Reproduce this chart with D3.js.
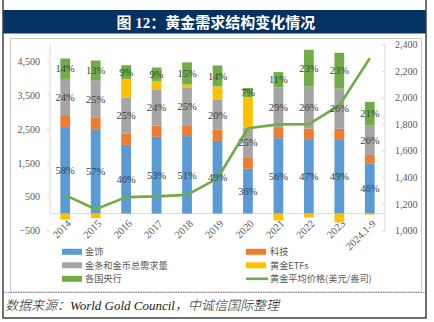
<!DOCTYPE html>
<html>
<head>
<meta charset="utf-8">
<script src="https://cdn.jsdelivr.net/npm/d3@7/dist/d3.min.js"></script>
<style>
  html, body { margin: 0; padding: 0; background: #fff; }
  svg { display: block; }
</style>
</head>
<body>
<svg id="chart" width="434" height="322"></svg>
<script>
// ---------------- DATA ----------------
const categories = ["2014","2015","2016","2017","2018","2019","2020","2021","2022","2023","2024.1-9"];
const jewellery    = [2557, 2497, 2031, 2269, 2290, 2150, 1325, 2230, 2201, 2201, 1488];
const technology   = [356, 336, 327, 336, 326, 330, 320, 327, 315, 306, 246];
const barCoin      = [1070, 1100, 1079, 1051, 1099, 880, 900, 1180, 1238, 1188, 871];
const etfs         = [-175, -135, 546, 267, 101, 400, 900, -205, -116, -255, -30];
const centralBanks = [603, 594, 404, 395, 656, 620, 267, 446, 1090, 1060, 695];
const goldPrice    = [1266, 1160, 1251, 1257, 1268, 1393, 1770, 1799, 1800, 1941, 2296];

const jewelleryPct   = ["58%","57%","46%","53%","51%","49%","36%","56%","47%","49%","46%"];
const barCoinPct     = ["24%","25%","25%","24%","25%","20%","25%","29%","26%","26%","26%"];
const centralBankPct = ["14%","13%","9%","9%","15%","14%","7%","11%","23%","23%","21%"];

const leftTicks  = [-500, 500, 1500, 2500, 3500, 4500];
const rightTicks = [1000, 1200, 1400, 1600, 1800, 2000, 2200, 2400];

const seriesNames = ["金饰", "科技", "金条和金币总需求量", "黄金ETFs", "各国央行", "黄金平均价格(美元/盎司)"];
const titleText  = "图 12：黄金需求结构变化情况";
const sourceText = "数据来源：World Gold Council，中诚信国际整理";

// ---------------- STYLE ----------------
const colors = {
  jewellery: "#5B9BD5", technology: "#ED7D31", barCoin: "#A5A5A5",
  etfs: "#FFC000", centralBanks: "#70AD47", price: "#70AD47"
};
const serif = "'Liberation Serif', 'Times New Roman', serif";
const cjk = "'Noto Sans CJK SC', sans-serif";

const svg = d3.select("#chart");

// ---------------- FRAME ----------------
svg.append("rect").attr("x", 3).attr("y", 10).attr("width", 423).attr("height", 23.5)
  .attr("fill", "#033263");
svg.append("text").attr("x", 216).attr("y", 27.5).attr("text-anchor", "middle")
  .attr("fill", "#fff").attr("font-family", "'Liberation Serif', 'Noto Sans CJK SC', serif")
  .attr("font-weight", "bold").attr("font-size", 15).text(titleText);

// inner chart frame
svg.append("rect").attr("x", 10.5).attr("y", 38.5).attr("width", 411).attr("height", 253.5)
  .attr("fill", "none").attr("stroke", "#C8C8C8").attr("stroke-width", 1);
// dotted separator
svg.append("line").attr("x1", 3).attr("x2", 426).attr("y1", 292.5).attr("y2", 292.5)
  .attr("stroke", "#888").attr("stroke-width", 1).attr("stroke-dasharray", "1.5,1");
// outer borders
svg.append("line").attr("x1", 3).attr("x2", 3).attr("y1", 0).attr("y2", 318.5)
  .attr("stroke", "#404040").attr("stroke-width", 1.5);
svg.append("line").attr("x1", 426).attr("x2", 426).attr("y1", 0).attr("y2", 318.5)
  .attr("stroke", "#404040").attr("stroke-width", 1.5);
svg.append("line").attr("x1", 3).attr("x2", 426).attr("y1", 318).attr("y2", 318)
  .attr("stroke", "#404040").attr("stroke-width", 1.5);

// ---------------- SCALES ----------------
const plotLeft = 50, plotRight = 385, plotTop = 44.5, plotBottom = 230.5;
const x = d3.scaleBand().domain(categories).range([plotLeft, plotRight])
  .paddingInner(0.68).paddingOuter(0.34);
const yL = d3.scaleLinear().domain([-500, 5000]).range([plotBottom, plotTop]);
const yR = d3.scaleLinear().domain([1000, 2400]).range([plotBottom, plotTop]);

// ---------------- AXES ----------------
const axisColor = "#D9D9D9";
const labelColor = "#595959";

const leftAxis = svg.append("g").attr("transform", `translate(${plotLeft},0)`)
  .call(d3.axisLeft(yL).tickValues(leftTicks).tickSize(3).tickPadding(7)
        .tickFormat(d3.format(",")));
leftAxis.select(".domain").remove();
leftAxis.selectAll(".tick line").attr("stroke", axisColor);
leftAxis.selectAll("text").attr("font-family", serif).attr("font-size", 10).attr("fill", labelColor);
svg.append("line").attr("x1", plotLeft).attr("x2", plotLeft).attr("y1", plotTop).attr("y2", yL(0))
  .attr("stroke", axisColor);

const rightAxis = svg.append("g").attr("transform", `translate(${plotRight},0)`)
  .call(d3.axisRight(yR).tickValues(rightTicks).tickSize(-3).tickPadding(10)
        .tickFormat(d3.format(",")));
rightAxis.select(".domain").remove();
rightAxis.selectAll(".tick line").attr("stroke", axisColor);
rightAxis.selectAll("text").attr("font-family", serif).attr("font-size", 10).attr("fill", labelColor);
svg.append("line").attr("x1", plotRight).attr("x2", plotRight).attr("y1", plotTop).attr("y2", plotBottom)
  .attr("stroke", axisColor);

// category axis at zero
svg.append("line").attr("x1", plotLeft).attr("x2", plotRight).attr("y1", yL(0)).attr("y2", yL(0))
  .attr("stroke", axisColor);

// category labels rotated
const xAxis = svg.append("g").attr("transform", `translate(0,${yL(0)})`)
  .call(d3.axisBottom(x).tickSize(0).tickPadding(0));
xAxis.select(".domain").remove();
xAxis.selectAll("text")
  .attr("font-family", serif).attr("font-size", 10.5).attr("fill", labelColor)
  .attr("text-anchor", "end")
  .attr("dy", "0.35em")
  .attr("transform", "translate(4,8) rotate(-45)");

// ---------------- BARS ----------------
const keys = ["jewellery", "technology", "barCoin", "etfs", "centralBanks"];
const rows = categories.map((c, i) => ({
  cat: c,
  jewellery: jewellery[i], technology: technology[i], barCoin: barCoin[i],
  etfs: etfs[i], centralBanks: centralBanks[i]
}));
const stacked = d3.stack().keys(keys).offset(d3.stackOffsetDiverging)(rows);

const barsG = svg.append("g");
stacked.forEach(layer => {
  barsG.selectAll(null).data(layer).enter().append("rect")
    .attr("x", d => x(d.data.cat))
    .attr("width", x.bandwidth())
    .attr("y", d => yL(Math.max(d[0], d[1])))
    .attr("height", d => Math.abs(yL(d[0]) - yL(d[1])))
    .attr("fill", colors[layer.key]);
});

// ---------------- LINE ----------------
const line = d3.line()
  .x((d, i) => x(categories[i]) + x.bandwidth() / 2)
  .y(d => yR(d));
svg.append("path").datum(goldPrice).attr("d", line)
  .attr("fill", "none").attr("stroke", colors.price).attr("stroke-width", 2.6)
  .attr("stroke-linejoin", "round");

// ---------------- LABELS ----------------
const labelG = svg.append("g");
const layerByKey = {};
stacked.forEach(l => layerByKey[l.key] = l);
function addLabels(key, labels) {
  layerByKey[key].forEach((d, i) => {
    labelG.append("text")
      .attr("x", x(d.data.cat) + x.bandwidth() / 2)
      .attr("y", yL((d[0] + d[1]) / 2))
      .attr("dy", "0.35em")
      .attr("text-anchor", "middle")
      .attr("font-family", serif).attr("font-size", 10.5).attr("fill", "#404040")
      .text(labels[i]);
  });
}
addLabels("jewellery", jewelleryPct);
addLabels("barCoin", barCoinPct);
addLabels("centralBanks", centralBankPct);

// ---------------- LEGEND ----------------
const legendItems = [
  { name: seriesNames[0], color: colors.jewellery, type: "rect", col: 0, row: 0 },
  { name: seriesNames[1], color: colors.technology, type: "rect", col: 1, row: 0 },
  { name: seriesNames[2], color: colors.barCoin, type: "rect", col: 0, row: 1 },
  { name: seriesNames[3], color: colors.etfs, type: "rect", col: 1, row: 1 },
  { name: seriesNames[4], color: colors.centralBanks, type: "rect", col: 0, row: 2 },
  { name: seriesNames[5], color: colors.price, type: "line", col: 1, row: 2 }
];
const legendG = svg.append("g");
legendItems.forEach(it => {
  const lx = it.col === 0 ? 62 : 246;
  const ly = 251.8 + it.row * 13.5;
  if (it.type === "rect") {
    legendG.append("rect").attr("x", lx).attr("y", ly - 3).attr("width", 20).attr("height", 6)
      .attr("fill", it.color);
  } else {
    legendG.append("line").attr("x1", lx).attr("x2", lx + 22).attr("y1", ly).attr("y2", ly)
      .attr("stroke", it.color).attr("stroke-width", 2.6);
  }
  legendG.append("text").attr("x", lx + (it.col === 0 ? 23 : 24)).attr("y", ly).attr("dy", "0.36em")
    .attr("font-family", cjk).attr("font-size", 9.2).attr("fill", labelColor)
    .text(it.name);
});

// ---------------- SOURCE ----------------
svg.append("text").attr("x", 5).attr("y", 309.5)
  .attr("font-family", "'Liberation Serif', 'Noto Sans CJK SC', serif")
  .attr("font-style", "italic").attr("font-weight", 300).attr("font-size", 13).attr("fill", "#1a1a1a")
  .text(sourceText);
</script>
</body>
</html>
